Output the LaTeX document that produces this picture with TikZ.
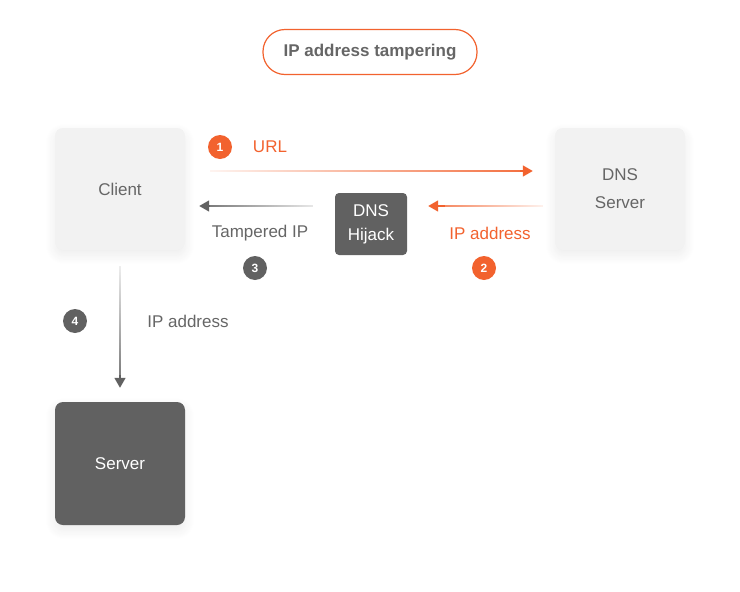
\documentclass[tikz,border=0pt]{standalone}
\usepackage{fontspec}
\setmainfont{Liberation Sans}
\usetikzlibrary{fadings,shadows.blur,arrows.meta}
\definecolor{tamperorange}{HTML}{F2622E}
\definecolor{boxgray}{HTML}{F2F2F2}
\definecolor{darkgray}{HTML}{616161}
\definecolor{textgray}{HTML}{666666}
\tikzfading[name=fadeleft, left color=transparent!100, right color=transparent!0]
\tikzfading[name=faderight, left color=transparent!0, right color=transparent!100]
\tikzfading[name=fadetop, top color=transparent!100, bottom color=transparent!0]

\begin{document}
\begin{tikzpicture}[x=1pt,y=-1pt,
  font=\fontsize{17}{20}\selectfont,
  softshadow/.style={blur shadow={shadow xshift=0pt,shadow yshift=-5pt,
    shadow blur radius=10pt,shadow blur steps=12,shadow opacity=8}},
  lightbox/.style={rectangle,rounded corners=8pt,minimum width=130pt,minimum height=122pt,
    fill=boxgray,text=textgray,align=center,softshadow},
  darkbox/.style={rectangle,rounded corners=8pt,fill=darkgray,text=white,align=center},
  badge/.style={circle,minimum size=24pt,inner sep=0pt,fill=#1,text=white,
    font=\fontsize{12}{13}\selectfont\bfseries},
  flow/.style={draw=#1,line width=1.6pt},
  flowtip/.style={draw=#1,line width=1.6pt,-{Triangle[length=10pt,width=11pt]}}]
\useasboundingbox (0,0) rectangle (740,592);

\path (370,52) node[rectangle,rounded corners=22pt,draw=tamperorange,line width=1.2pt,
  fill=white,minimum width=214pt,minimum height=45pt,text=textgray,font=\fontsize{17}{20}\selectfont\bfseries] (title) {IP address tampering};

\path (120,189) node[lightbox] (client) {Client};
\path (620,189) node[lightbox] (dns) {DNS\\[8pt]Server};
\path (120,463.5) node[darkbox,minimum width=130pt,minimum height=123pt,softshadow] (server) {Server};
\path (371,224) node[darkbox,rounded corners=4pt,minimum width=72pt,minimum height=62pt] (hijack) {DNS\\[4pt]Hijack};

% 1: URL request
\draw[flow=tamperorange,path fading=fadeleft,shorten <=25pt,shorten >=30pt]
  ([yshift=18pt]client.east) -- ([yshift=18pt]dns.west);
\draw[flowtip=tamperorange,shorten <=335pt,shorten >=22pt]
  ([yshift=18pt]client.east) -- ([yshift=18pt]dns.west);
\path (220,147) node[badge=tamperorange] (one) {1};
\path (270,147) node[text=tamperorange] (url) {URL};

% 2: answer to hijacker
\draw[flow=tamperorange,path fading=faderight,shorten <=12pt,shorten >=30pt]
  ([yshift=-17pt]dns.west) -- ([yshift=18pt]hijack.east);
\draw[flowtip=tamperorange,shorten <=110pt,shorten >=21pt]
  ([yshift=-17pt]dns.west) -- ([yshift=18pt]hijack.east);
\path (490,233) node[text=tamperorange] (ipa) {IP address};
\path (484,268) node[badge=tamperorange] (two) {2};

% 3: forged answer
\draw[flow=darkgray,path fading=faderight,shorten <=22pt,shorten >=22pt]
  ([yshift=18pt]hijack.west) -- ([yshift=-17pt]client.east);
\draw[flowtip=darkgray,shorten <=125pt,shorten >=14pt]
  ([yshift=18pt]hijack.west) -- ([yshift=-17pt]client.east);
\path (260,233) node[text=textgray] (tip) {Tampered IP};
\path (255,268) node[badge=darkgray] (three) {3};

% 4: connect to server
\draw[flow=darkgray,path fading=fadetop,shorten <=16pt,shorten >=22pt]
  (client.south) -- (server.north);
\draw[flowtip=darkgray,shorten <=125pt,shorten >=14pt]
  (client.south) -- (server.north);
\path (188,321) node[text=textgray] (ipb) {IP address};
\path (75,321) node[badge=darkgray] (four) {4};
\end{tikzpicture}
\end{document}
